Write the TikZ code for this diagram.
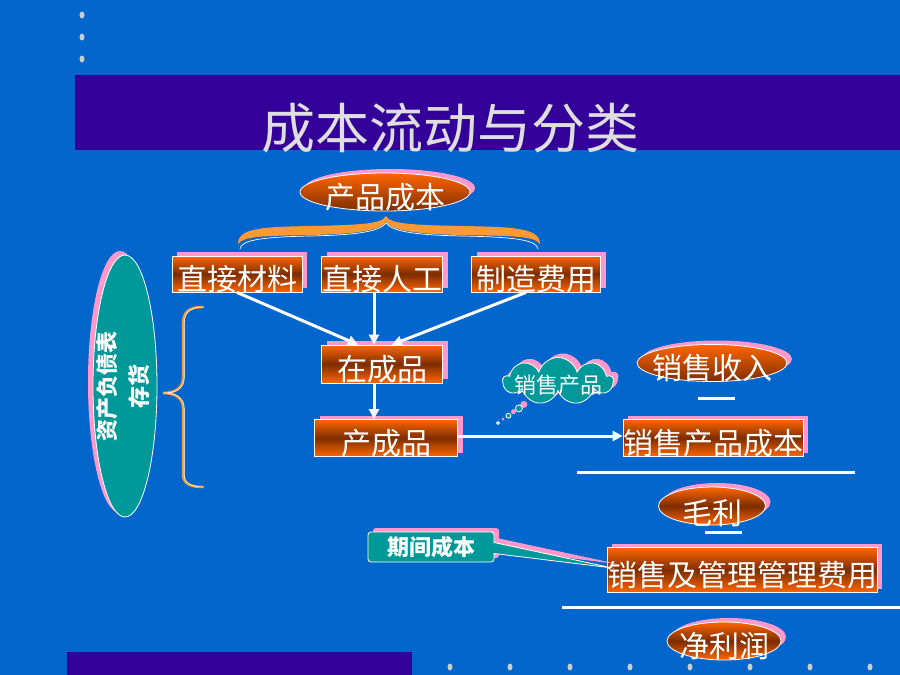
\documentclass[tikz,border=0pt]{standalone}
\usepackage{fontspec}
\setmainfont{Noto Sans CJK SC}
\usetikzlibrary{arrows.meta, calc, shapes.geometric, shapes.symbols, shapes.callouts, shadows}
\definecolor{bgblue}{RGB}{3,102,204}
\definecolor{barpurple}{RGB}{51,0,153}
\definecolor{boxorange}{RGB}{255,102,0}
\definecolor{boxbrown}{RGB}{125,45,0}
\definecolor{shadepink}{RGB}{255,153,204}
\definecolor{tealfill}{RGB}{0,153,153}
\definecolor{braceorange}{RGB}{255,153,51}
\definecolor{dotgray}{RGB}{204,204,204}
\definecolor{titlegray}{RGB}{222,222,222}
% text in a box of no size, set a little low as on the slide
\newcommand{\lowtext}[2][5pt]{\raisebox{\dimexpr-0.38em-#1\relax}[0pt][0pt]{\makebox[0pt]{#2}}}

\begin{document}
\begin{tikzpicture}[x=1pt, y=-1pt, >=Stealth,
    pinkshadow/.style={drop shadow={shadow xshift=5pt, shadow yshift=4pt, fill=shadepink, opacity=1}},
    costbox/.style={rectangle, draw=white, line width=0.8pt, top color=boxorange, bottom color=boxorange, middle color=boxbrown, pinkshadow, text=white, font=\fontsize{30}{36}\selectfont, inner sep=0pt},
    costoval/.style={costbox, ellipse, top color=boxorange, bottom color=boxbrown},
    tealnote/.style={draw=white, line width=0.8pt, fill=tealfill, text=white, font=\bfseries\fontsize{22}{32}\selectfont, inner sep=0pt},
    flow/.style={white, line width=3pt, -{Triangle[width=10pt, length=10pt]}},
    minus/.style={white, line width=3pt}]

    % Slide background, bars and dots
    \fill[bgblue] (0,0) rectangle (900,675);
    \useasboundingbox (0,0) rectangle (900,675);
    \fill[barpurple] (75,75) rectangle (900,150);
    \fill[barpurple] (67,652) rectangle (412,675);
    \foreach \y in {15,37,59}
        \fill[dotgray] (82,\y) ellipse (2.5 and 3.5);
    \foreach \x in {450,510,...,870}
        \fill[dotgray] (\x,667) ellipse (2.5 and 3.5);

    % Title
    \node[text=titlegray, font=\fontsize{54}{60}\selectfont] (title) at (450,128) {成本流动与分类};

    % Product cost and its brace
    \node[costoval, minimum width=170, minimum height=38] (pcost) at (385,192) {\lowtext{产品成本}};
    \fill[braceorange] (238,244) .. controls (238,228) and (262,227) .. (310,226)
        .. controls (360,225) and (382,224) .. (386,216)
        .. controls (390,224) and (412,225) .. (462,226)
        .. controls (515,227) and (540,228) .. (540,244)
        .. controls (534,236) and (515,236) .. (462,235)
        .. controls (412,234) and (392,230) .. (386,222)
        .. controls (380,230) and (360,234) .. (310,235)
        .. controls (262,236) and (244,236) .. cycle;
    \draw[white, line width=0.7pt] (240,249) .. controls (241,240) and (262,237) .. (310,236)
        .. controls (360,235) and (380,231) .. (386,223)
        .. controls (392,231) and (412,235) .. (462,236)
        .. controls (515,237) and (537,240) .. (538,249);

    % Cost elements
    \node[costbox, minimum width=130, minimum height=36] (mat) at (237,274) {\lowtext{直接材料}};
    \node[costbox, minimum width=121, minimum height=36] (lab) at (382,274) {\lowtext{直接人工}};
    \node[costbox, minimum width=129, minimum height=36] (ovh) at (536,274) {\lowtext{制造费用}};
    \node[costbox, minimum width=121, minimum height=38] (wip) at (382,364) {\lowtext{在成品}};
    \node[costbox, minimum width=143, minimum height=37] (fin) at (386,438) {\lowtext{产成品}};

    % Balance sheet: inventory
    \node[tealnote, ellipse, minimum width=64, minimum height=262,
        drop shadow={shadow xshift=-5pt, shadow yshift=4pt, fill=shadepink, opacity=1}] (inv) at (125,386)
        {\makebox[0pt]{\rotatebox{90}{\begin{tabular}{@{}c@{}}资产负债表\\存货\end{tabular}}}};
    \draw[braceorange, line width=2.5pt,
        postaction={draw=white, line width=0.6pt, transform canvas={xshift=1.2pt}}]
        (203,307) .. controls (189,307) and (183,312) .. (183,324)
        -- (183,378) .. controls (183,388) and (175,393) .. (163,393)
        .. controls (175,393) and (183,398) .. (183,408)
        -- (183,474) .. controls (183,483) and (189,487) .. (203,487);

    % Income statement
    \node[costoval, minimum width=150, minimum height=37] (rev) at (712,363) {\lowtext{销售收入}};
    \draw[minus] (698,398) -- (735,398);
    \node[costbox, minimum width=180, minimum height=37] (cogs) at (713,438) {\lowtext{销售产品成本}};
    \draw[minus] (577,472) -- (855,472);
    \node[costoval, bottom color=boxorange, middle color=boxbrown, minimum width=107, minimum height=38] (gross) at (712,506) {\lowtext[7pt]{毛利}};
    \draw[minus] (705,532) -- (742,532);
    \node[costbox, minimum width=270, minimum height=45] (sga) at (742,570) {\lowtext{销售及管理管理费用}};
    \draw[minus] (562,607) -- (900,607);
    \node[costoval, bottom color=boxorange, middle color=boxbrown, minimum width=114, minimum height=38] (net) at (724,641) {\lowtext{净利润}};

    % Flow of costs
    \draw[flow] (mat.south) -- ($(wip.north)+(-24,0)$);
    \draw[flow] ($(lab.south)+(-8,0)$) -- ($(wip.north)+(-8,0)$);
    \draw[flow] ($(ovh.south)+(-10,0)$) -- ($(wip.north)+(10,0)$);
    \draw[flow] ($(wip.south)+(-8,0)$) -- ($(fin.north)+(-12,0)$);
    \draw[flow] ($(fin.east)+(0,-2)$) -- ($(cogs.west)+(0,-2)$);

    % Notes
    \coordinate (soldtip) at (498,423);
    \node[tealnote, font=\fontsize{22}{26}\selectfont, cloud callout, cloud puffs=9, aspect=2.3,
        callout absolute pointer={(soldtip)}, callout pointer segments=3,
        callout pointer start size=9pt, callout pointer end size=3pt,
        minimum width=110, minimum height=47, pinkshadow] (sold) at (558,381) {\lowtext[4pt]{销售产品}};
    \coordinate (periodtip) at ($(sga.west)+(6,-2)$);
    \node[tealnote, rectangle callout, rounded corners=3pt, callout absolute pointer={(periodtip)},
        callout pointer width=11pt, minimum width=126, minimum height=30, pinkshadow] (period) at (431,547) {期间成本};
\end{tikzpicture}
\end{document}
